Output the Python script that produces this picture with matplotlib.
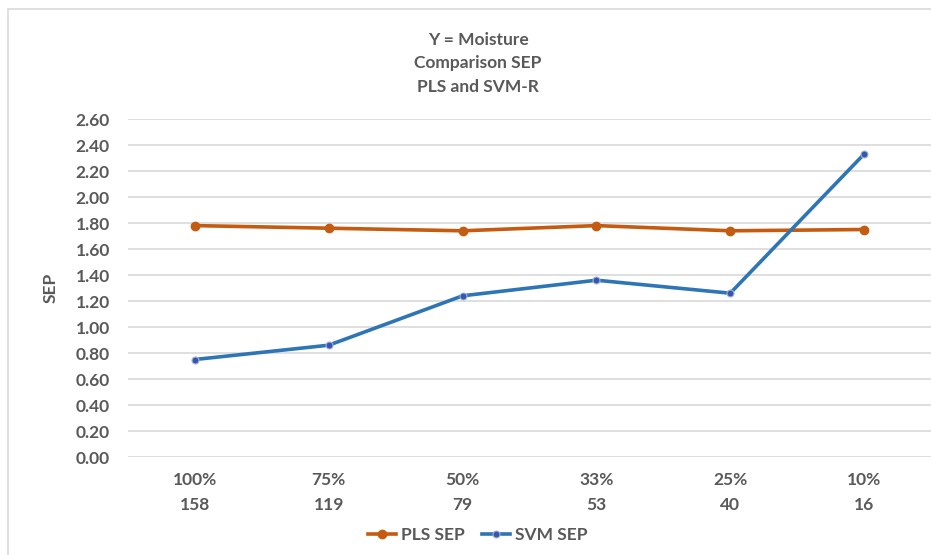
import matplotlib.pyplot as plt
from matplotlib.patches import Rectangle

# SEP per calibration subset (share of samples / sample count)
pct_labels = ['100%', '75%', '50%', '33%', '25%', '10%']
n_samples = ['158', '119', '79', '53', '40', '16']
pls_sep = [1.78, 1.76, 1.74, 1.78, 1.74, 1.75]
svm_sep = [0.75, 0.86, 1.24, 1.36, 1.26, 2.33]
y_ticks = [0.0, 0.2, 0.4, 0.6, 0.8, 1.0, 1.2, 1.4, 1.6, 1.8, 2.0, 2.2, 2.4, 2.6]
title_lines = ['Y = Moisture', 'Comparison SEP', 'PLS and SVM-R']

txt = '#595959'
fs = 12.5
plt.rcParams['font.family'] = ['Lato', 'DejaVu Sans']
plt.rcParams['font.weight'] = 'bold'

fig = plt.figure(figsize=(9.31, 5.55), dpi=100)
ax = fig.add_axes([128 / 931, 1 - 457 / 555, 1 - 128 / 931, (457 - 119) / 555])

# chart frame, left and top edges visible
fig.patches.append(Rectangle((8 / 931, -0.1), 1.2, 1 - 9 / 555 + 0.1,
                             transform=fig.transFigure, fill=False,
                             edgecolor='#d9d9d9', linewidth=1.2))

x = list(range(len(pct_labels)))
ax.plot(x, pls_sep, color='#c55a11', linewidth=2.6, marker='o',
        markersize=6, label='PLS SEP', zorder=3)
ax.plot(x, svm_sep, color='#2e75b6', linewidth=2.6, marker='o',
        markersize=5, markerfacecolor='#3a56a8', markeredgecolor='#9db3e0',
        markeredgewidth=0.8, label='SVM SEP', zorder=4)

ax.set_xlim(-0.5, 5.5)
ax.set_ylim(0, 2.6)
ax.set_yticks(y_ticks)
ax.set_yticklabels([f'{v:.2f}' for v in y_ticks])
ax.set_xticks(x)
ax.set_xticklabels([f'{p}\n{n}' for p, n in zip(pct_labels, n_samples)],
                   linespacing=1.65)
ax.grid(axis='y', color='#d9d9d9', linewidth=1.2)
ax.set_axisbelow(True)
for s in ax.spines.values():
    s.set_visible(False)
ax.tick_params(axis='both', length=0, labelsize=fs, colors=txt)
ax.tick_params(axis='y', pad=13)
ax.tick_params(axis='x', pad=11)

ax.set_ylabel('SEP', fontsize=fs, color=txt, fontweight='bold', labelpad=12)

# three-line title, one text per line
for line, ypix in zip(title_lines, [40, 63.5, 87.5]):
    fig.text(478 / 931, 1 - ypix / 555, line, ha='center', va='center',
             fontsize=fs, color=txt)

fig.legend(loc='center', bbox_to_anchor=(478 / 931, 1 - 535 / 555), ncol=2,
           frameon=False, fontsize=fs, labelcolor=txt, handlelength=1.6,
           handletextpad=0.3, columnspacing=1.0)

fig.savefig('out.png', dpi=100)
